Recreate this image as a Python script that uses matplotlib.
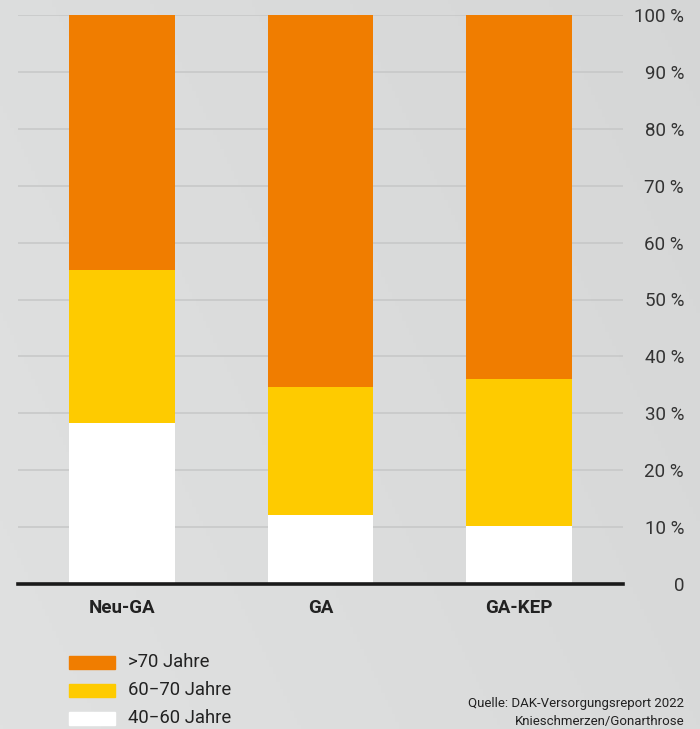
import numpy as np
import matplotlib
matplotlib.use("Agg")
import matplotlib.pyplot as plt
from matplotlib.patches import Rectangle

plt.rcParams['font.family'] = ['Roboto', 'DejaVu Sans']

categories = ["Neu-GA", "GA", "GA-KEP"]
age_40_60 = [28.3, 12.1, 10.2]
age_60_70 = [26.9, 22.5, 25.8]
age_70_plus = [44.8, 65.4, 64.0]
series_labels = [">70 Jahre", "60\u221270 Jahre", "40\u221260 Jahre"]
colors = {"70+": "#F07D00", "60-70": "#FECB00", "40-60": "#FFFFFF"}
yticks = list(range(0, 101, 10))
ytick_labels = ["0"] + [f"{v} %" for v in yticks[1:]]

W, H = 700, 729
fig = plt.figure(figsize=(W / 100, H / 100), dpi=100)

# soft grey background gradient
bg = fig.add_axes([0, 0, 1, 1], zorder=-10)
xx, yy = np.meshgrid(np.linspace(0, 1, 200), np.linspace(0, 1, 200))
g = 0.5 * xx + 0.25 * (1 - yy)
c0 = np.array([0xE0, 0xE1, 0xE1]) / 255
c1 = np.array([0xD2, 0xD3, 0xD3]) / 255
img = c0[None, None, :] * (1 - g[..., None]) + c1[None, None, :] * g[..., None]
bg.imshow(img, aspect='auto', extent=[0, 1, 0, 1], origin='upper')
bg.axis('off')

left, right, top, bottom = 18, 623, 15, 584
ax = fig.add_axes([left / W, 1 - bottom / H, (right - left) / W, (bottom - top) / H])
ax.set_facecolor('none')

x = np.arange(len(categories))
w = 0.534
b1 = np.array(age_40_60)
b2 = b1 + np.array(age_60_70)
ax.bar(x, age_40_60, w, color=colors["40-60"], zorder=3)
ax.bar(x, age_60_70, w, bottom=b1, color=colors["60-70"], zorder=3)
ax.bar(x, age_70_plus, w, bottom=b2, color=colors["70+"], zorder=3)

ax.set_xlim(-0.525, 2.525)
ax.set_ylim(0, 100)

for v in yticks[1:]:
    ax.axhline(v, color='#c6c7c7', lw=1.1, zorder=1)

for s in ['top', 'left', 'right']:
    ax.spines[s].set_visible(False)
ax.spines['bottom'].set_color('#1a1a1a')
ax.spines['bottom'].set_linewidth(2.6)
ax.spines['bottom'].set_zorder(5)

ax.yaxis.tick_right()
ax.set_yticks(yticks)
ax.set_yticklabels(ytick_labels, fontsize=13.5, color='#333333')
ax.tick_params(axis='y', length=0, pad=44)
for lab in ax.get_yticklabels():
    lab.set_ha('right')

ax.set_xticks(x)
ax.set_xticklabels(categories, fontsize=13.5, fontweight='bold', color='#222222')
ax.tick_params(axis='x', length=0, pad=11)

# legend drawn as patches in figure pixels
legend_rows = [(series_labels[0], colors["70+"], 662),
               (series_labels[1], colors["60-70"], 690),
               (series_labels[2], colors["40-60"], 718)]
for lab, col, yc in legend_rows:
    fig.patches.append(Rectangle((69 / W, 1 - (yc + 6.5) / H), 46 / W, 13 / H,
                                 transform=fig.transFigure, color=col, zorder=3))
    fig.text(128 / W, 1 - yc / H, lab, fontsize=13.3, color='#222222',
             ha='left', va='center')

fig.text(684 / W, 1 - 703 / H, "Quelle: DAK-Versorgungsreport 2022",
         fontsize=9.5, color='#222222', ha='right', va='center')
fig.text(684 / W, 1 - 721 / H, "Knieschmerzen/Gonarthrose",
         fontsize=9.5, color='#222222', ha='right', va='center')

fig.savefig("out.png", dpi=100)
